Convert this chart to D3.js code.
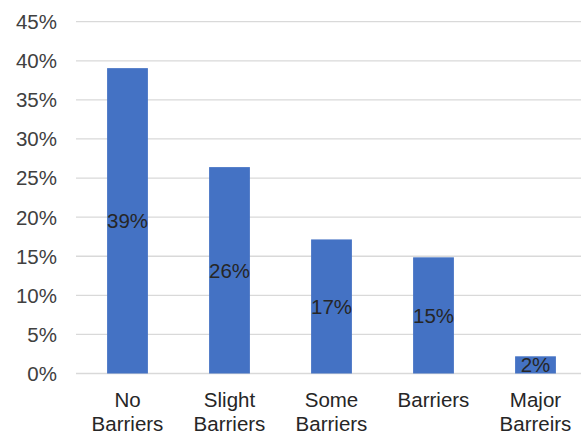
<!DOCTYPE html>
<html><head><meta charset="utf-8">
<script src="https://cdn.jsdelivr.net/npm/d3@7"></script>
<style>html,body{margin:0;padding:0;background:#fff;}svg{display:block;}</style>
</head><body>
<svg id="chart" width="581" height="436"></svg>
<script>
const categories = [["No","Barriers"],["Slight","Barriers"],["Some","Barriers"],["Barriers"],["Major","Barreirs"]];
const values = [0.3906, 0.2640, 0.1715, 0.1486, 0.0220];
const dataLabels = ["39%","26%","17%","15%","2%"];
const yTicks = [0,0.05,0.10,0.15,0.20,0.25,0.30,0.35,0.40,0.45];

const svg = d3.select("#chart");
const font = "'Liberation Sans', Arial, sans-serif";
const x = d3.scaleBand().domain(d3.range(categories.length)).range([76.5, 586.5]).paddingInner(0.6).paddingOuter(0.3);
const y = d3.scaleLinear().domain([0, 0.45]).range([373.5, 21.7]);

// gridlines
svg.append("g").selectAll("line").data(yTicks).join("line")
  .attr("x1", 76).attr("x2", 581)
  .attr("y1", d => y(d)).attr("y2", d => y(d))
  .attr("stroke", "#d9d9d9").attr("stroke-width", 1.3);

// y tick labels
svg.append("g").selectAll("text").data(yTicks).join("text")
  .attr("x", 57).attr("y", d => y(d)).attr("dy", "0.36em")
  .attr("text-anchor", "end")
  .attr("font-family", font).attr("font-size", 20.5).attr("fill", "#404040")
  .text(d => d3.format(".0%")(d));

// bars
svg.append("g").selectAll("rect").data(values).join("rect")
  .attr("x", (d,i) => x(i)).attr("width", x.bandwidth())
  .attr("y", d => y(d)).attr("height", d => y(0) - y(d))
  .attr("fill", "#4472c4");

// data labels
svg.append("g").selectAll("text").data(values).join("text")
  .attr("x", (d,i) => x(i) + x.bandwidth()/2)
  .attr("y", d => (y(d) + y(0))/2).attr("dy", "0.36em")
  .attr("text-anchor", "middle")
  .attr("font-family", font).attr("font-size", 20.5).attr("fill", "#262626")
  .text((d,i) => dataLabels[i]);

// category labels
const cg = svg.append("g").selectAll("text").data(categories).join("text")
  .attr("x", (d,i) => x(i) + x.bandwidth()/2)
  .attr("y", 406.5)
  .attr("text-anchor", "middle")
  .attr("font-family", font).attr("font-size", 20.5).attr("fill", "#262626");
cg.selectAll("tspan").data((d,i) => d.map(s => ({s, i}))).join("tspan")
  .attr("x", d => x(d.i) + x.bandwidth()/2)
  .attr("dy", (d,j) => j === 0 ? 0 : 24.5)
  .text(d => d.s);
</script>
</body></html>
